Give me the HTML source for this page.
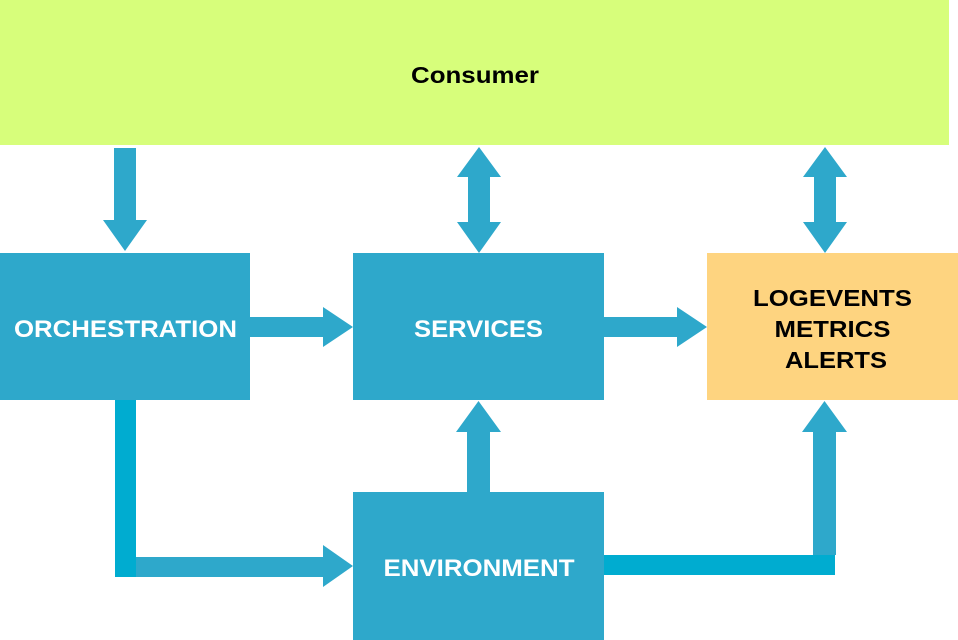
<!DOCTYPE html>
<html><head><meta charset="utf-8"><style>
html,body{margin:0;padding:0;background:#fff;width:958px;height:640px;overflow:hidden}
svg{display:block}
text{font-family:"Liberation Sans",Arial,sans-serif;font-weight:bold}
</style></head><body>
<svg width="958" height="640" viewBox="0 0 958 640">
<rect x="0" y="0" width="949" height="145" fill="#d7fe7b"/>
<text x="475" y="83" font-size="23" text-anchor="middle" fill="#000" textLength="128" lengthAdjust="spacingAndGlyphs">Consumer</text>

<g fill="#2ea8cb">
<polygon points="114,148 136,148 136,220 147,220 125,251 103,220 114,220"/>
<polygon points="479,147 501,177 490,177 490,222 501,222 479,253 457,222 468,222 468,177 457,177"/>
<polygon points="825,147 847,177 836,177 836,222 847,222 825,253 803,222 814,222 814,177 803,177"/>
<polygon points="250,317 323,317 323,307 353,327 323,347 323,337 250,337"/>
<polygon points="604,317 677,317 677,307 707,327 677,347 677,337 604,337"/>
<polygon points="467,492 467,432 456,432 478.5,401 501,432 490,432 490,492"/>
<polygon points="813,555 813,432 802,432 824.5,401 847,432 836,432 836,555"/>
<polygon points="135,557 323,557 323,545 353,566 323,587 323,577 135,577"/>

<rect x="0" y="253" width="250" height="147"/>
<rect x="353" y="253" width="251" height="147"/>
<rect x="353" y="492" width="251" height="148"/>
</g>
<g fill="#00acd0">
<rect x="115" y="400" width="21" height="177"/>
<rect x="604" y="555" width="231" height="20"/>
</g>

<rect x="707" y="253" width="251" height="147" fill="#fed480"/>

<g fill="#fff" font-size="24" text-anchor="middle" lengthAdjust="spacingAndGlyphs">
<text x="125.5" y="337" textLength="223" lengthAdjust="spacingAndGlyphs">ORCHESTRATION</text>
<text x="478.5" y="337" textLength="129" lengthAdjust="spacingAndGlyphs">SERVICES</text>
<text x="479" y="576" textLength="191" lengthAdjust="spacingAndGlyphs">ENVIRONMENT</text>
</g>
<g fill="#000" font-size="23" text-anchor="middle">
<text x="832.5" y="306" textLength="159" lengthAdjust="spacingAndGlyphs">LOGEVENTS</text>
<text x="832.5" y="337" textLength="116" lengthAdjust="spacingAndGlyphs">METRICS</text>
<text x="836" y="368" textLength="102" lengthAdjust="spacingAndGlyphs">ALERTS</text>
</g>
</svg>
</body></html>
